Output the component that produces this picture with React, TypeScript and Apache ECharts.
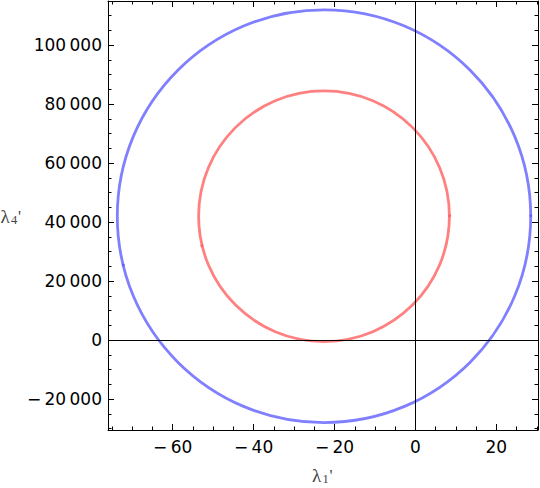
import React, { useEffect, useRef } from "react";
import * as echarts from "echarts";

// Ellipses (curves of the plot): centre and semi-axes
const ellipseNames = ["outer", "inner"];
const centerX = [-22.6, -22.6];
const centerY = [42000, 42000];
const radiusX = [51.1, 31.0];
const radiusY = [70000, 42500];
const ellipseColors = ["#8080ff", "#ff8080"];

// Small darker seam points on the curves
const seamX = [-72.2, 28.5, -52.8, 8.45];
const seamY = [25440, 42160, 32000, 42160];
const seamColors = ["#5a5aff", "#5a5aff", "#ff5a5a", "#ff5a5a"];

// Plot range and ticks
const xLimits = [-76, 30.3];
const yLimits = [-30500, 115000];
const xMajor = 20;
const yMajor = 20000;
const nameSymbol = "λ";
const xNameSub = "1";
const yNameSub = "4";
const namePrime = "'";

const fmt = (v: number) => {
  const s = Math.abs(Math.round(v))
    .toString()
    .replace(/\B(?=(\d{3})+(?!\d))/g, "\u2009");
  return v < 0 ? "\u2212\u2009" + s : s;
};

const tickFont = "DejaVu Sans";

function makeAxis(kind: "x" | "y", pos: string, labels: boolean) {
  const isX = kind === "x";
  return {
    type: "value",
    position: pos,
    min: isX ? xLimits[0] : yLimits[0],
    max: isX ? xLimits[1] : yLimits[1],
    minInterval: isX ? xMajor : yMajor,
    maxInterval: isX ? xMajor : yMajor,
    splitNumber: isX ? 5 : 7,
    axisLine: { show: true, onZero: false, lineStyle: { color: "#000", width: 1 } },
    axisTick: { show: true, inside: true, length: 6, lineStyle: { color: "#000", width: 1 } },
    minorTick: { show: true, splitNumber: 4, length: 3.5, lineStyle: { color: "#000", width: 1 } },
    splitLine: { show: false },
    minorSplitLine: { show: false },
    axisLabel: {
      show: labels,
      showMinLabel: false,
      showMaxLabel: false,
      formatter: fmt,
      color: "#000",
      fontSize: 17,
      fontFamily: tickFont,
      margin: isX ? 8 : 6,
    },
  };
}

function axisName(x: number, baseline: number, sub: string) {
  const serif = "Liberation Serif";
  const mk = (text: string, dx: number, dy: number, size: number) => ({
    type: "text",
    x: dx,
    y: dy,
    style: { text, fontFamily: serif, fontSize: size, fill: "#444", align: "left", verticalAlign: "middle" },
  });
  return {
    type: "group",
    x,
    y: baseline,
    children: [mk(nameSymbol, 0, -6, 19), mk(sub, 10.5, -2.5, 12.5), mk(namePrime, 17.5, -6, 17)],
  };
}

export default function App() {
  const ref = useRef<HTMLDivElement>(null);
  useEffect(() => {
    if (!ref.current) return;
    const chart = echarts.init(ref.current, null, { renderer: "svg" });
    const ellipseData = ellipseNames.map((n, i) => ({
      name: n,
      value: [centerX[i], centerY[i], radiusX[i], radiusY[i]],
    }));
    const seamData = seamX.map((x, i) => ({
      value: [x, seamY[i]],
      itemStyle: { color: seamColors[i] },
    }));
    chart.setOption({
      animation: false,
      grid: { left: 108, right: 2, top: 1, bottom: 58, containLabel: false },
      xAxis: [makeAxis("x", "bottom", true), makeAxis("x", "top", false)],
      yAxis: [makeAxis("y", "left", true), makeAxis("y", "right", false)],
      graphic: [axisName(312, 481, xNameSub), axisName(0.5, 222, yNameSub)],
      series: [
        {
          type: "scatter",
          z: 2,
          symbolSize: 3,
          data: [],
          markLine: {
            silent: true,
            symbol: "none",
            label: { show: false },
            lineStyle: { color: "#000", width: 1, type: "solid" },
            emphasis: { disabled: true },
            data: [{ xAxis: 0 }, { yAxis: 0 }],
          },
        },
        {
          type: "custom",
          z: 3,
          dimensions: ["cx", "cy", "rx", "ry"],
          encode: { x: 0, y: 1 },
          data: ellipseData,
          renderItem: (params: any, api: any) => {
            const c = api.coord([api.value(0), api.value(1)]);
            const s = api.size([api.value(2), api.value(3)], [api.value(0), api.value(1)]);
            return {
              type: "ellipse",
              shape: { cx: c[0], cy: c[1], rx: s[0], ry: s[1] },
              style: { fill: "none", stroke: ellipseColors[params.dataIndex], lineWidth: 2.8 },
            };
          },
        },
        {
          type: "scatter",
          z: 4,
          symbol: "circle",
          symbolSize: 3,
          data: seamData,
        },
      ],
    });
    return () => chart.dispose();
  }, []);
  return (
    <div
      ref={ref}
      style={{ position: "fixed", left: 0, top: 0, width: 540, height: 488, background: "#fff" }}
    />
  );
}
